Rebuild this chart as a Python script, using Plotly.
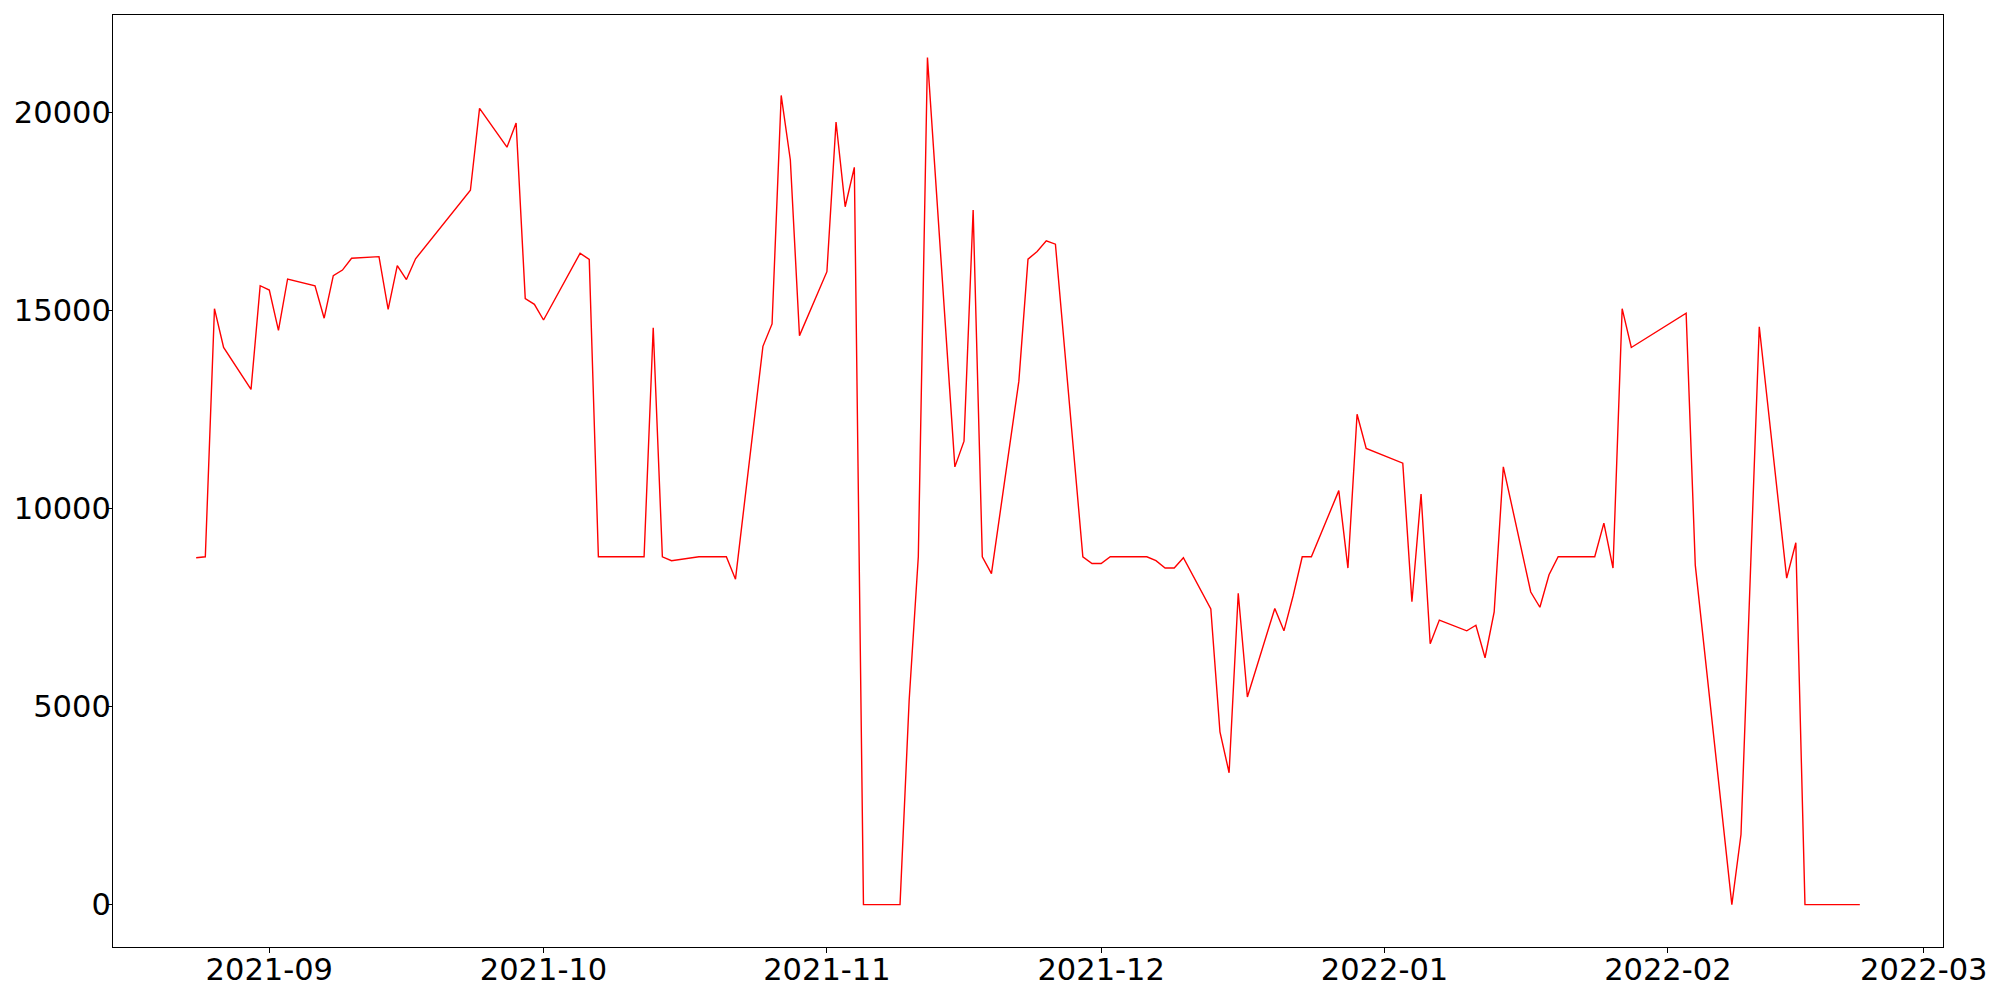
# =================================================
# DAILY SERIES — RED LINE ON WHITE (MPL LOOK)
# =================================================

import plotly.graph_objects as go


# -------------------------------------------------
# DATA
# -------------------------------------------------
dates = [
    "2021-08-24", "2021-08-25", "2021-08-26", "2021-08-27", "2021-08-30",
    "2021-08-31", "2021-09-01", "2021-09-02", "2021-09-03", "2021-09-06",
    "2021-09-07", "2021-09-08", "2021-09-09", "2021-09-10", "2021-09-13",
    "2021-09-14", "2021-09-15", "2021-09-16", "2021-09-17", "2021-09-23",
    "2021-09-24", "2021-09-27", "2021-09-28", "2021-09-29", "2021-09-30",
    "2021-10-01", "2021-10-05", "2021-10-06", "2021-10-07", "2021-10-08",
    "2021-10-11", "2021-10-12", "2021-10-13", "2021-10-14", "2021-10-15",
    "2021-10-18", "2021-10-19", "2021-10-20", "2021-10-21", "2021-10-22",
    "2021-10-25", "2021-10-26", "2021-10-27", "2021-10-28", "2021-10-29",
    "2021-11-01", "2021-11-02", "2021-11-03", "2021-11-04", "2021-11-05",
    "2021-11-08", "2021-11-09", "2021-11-10", "2021-11-11", "2021-11-12",
    "2021-11-15", "2021-11-16", "2021-11-17", "2021-11-18", "2021-11-19",
    "2021-11-22", "2021-11-23", "2021-11-24", "2021-11-25", "2021-11-26",
    "2021-11-29", "2021-11-30", "2021-12-01", "2021-12-02", "2021-12-03",
    "2021-12-06", "2021-12-07", "2021-12-08", "2021-12-09", "2021-12-10",
    "2021-12-13", "2021-12-14", "2021-12-15", "2021-12-16", "2021-12-17",
    "2021-12-20", "2021-12-21", "2021-12-22", "2021-12-23", "2021-12-24",
    "2021-12-27", "2021-12-28", "2021-12-29", "2021-12-30", "2022-01-03",
    "2022-01-04", "2022-01-05", "2022-01-06", "2022-01-07", "2022-01-10",
    "2022-01-11", "2022-01-12", "2022-01-13", "2022-01-14", "2022-01-17",
    "2022-01-18", "2022-01-19", "2022-01-20", "2022-01-21", "2022-01-24",
    "2022-01-25", "2022-01-26", "2022-01-27", "2022-01-28", "2022-02-03",
    "2022-02-04", "2022-02-08", "2022-02-09", "2022-02-11", "2022-02-14",
    "2022-02-15", "2022-02-16", "2022-02-17", "2022-02-18", "2022-02-21",
    "2022-02-22",
]

values = [
    8760, 8785, 15050, 14070, 13010,
    15630, 15520, 14500, 15800, 15630,
    14810, 15885, 16025, 16325, 16365,
    15035, 16140, 15785, 16310, 18040,
    20110, 19130, 19740, 15305, 15160,
    14765, 16450, 16295, 8785, 8785,
    8785, 8785, 14570, 8785, 8685,
    8785, 8785, 8785, 8785, 8220,
    14100, 14665, 20435, 18805, 14370,
    15985, 19765, 17625, 18620, 0,
    0, 0, 5170, 8785, 21395,
    11055, 11705, 17540, 8785, 8360,
    13220, 16300, 16495, 16765, 16680,
    8785, 8615, 8615, 8785, 8785,
    8785, 8685, 8500, 8500, 8760,
    7470, 4365, 3330, 7865, 5245,
    7480, 6915, 7795, 8785, 8785,
    10455, 8500, 12385, 11520, 11150,
    7650, 10370, 6590, 7185, 6915,
    7055, 6235, 7395, 11055, 7895,
    7510, 8330, 8785, 8785, 8785,
    9635, 8500, 15050, 14070, 14935,
    8575, 0, 1770, 14595, 8245,
    9140, 0, 0, 0, 0,
    0,
]

x_range = ["2021-08-14 21:36", "2022-03-03 02:24"]
y_range = [-1070, 22467]
y_ticks = [0, 5000, 10000, 15000, 20000]


# -------------------------------------------------
# COMMON AXIS STYLE (black frame, outside ticks)
# -------------------------------------------------
def _axis(**kw):

    base = dict(
        showline=True,
        linecolor="black",
        linewidth=1.1,
        mirror=True,
        showgrid=False,
        zeroline=False,
        automargin=False,
        ticks="outside",
        ticklen=5,
        tickwidth=1.1,
        tickcolor="black",
        tickfont=dict(family="DejaVu Sans", size=30.5, color="black"),
    )
    base.update(kw)
    return base


# =================================================
# FIGURE
# =================================================
fig = go.Figure(
    go.Scatter(
        x=dates,
        y=values,
        mode="lines",
        line=dict(color="red", width=1.4),
        showlegend=False,
    )
)

# page body adds an 8px offset, so size/margins are trimmed to suit
fig.update_layout(
    width=1992,
    height=992,
    paper_bgcolor="white",
    plot_bgcolor="white",
    margin=dict(l=105, r=57, t=7, b=53),
    xaxis=_axis(
        type="date",
        range=x_range,
        tick0="2021-09-01",
        dtick="M1",
        tickformat="%Y-%m",
        ticklabelstandoff=-10,
    ),
    yaxis=_axis(
        range=y_range,
        tickvals=y_ticks,
        tickformat="d",
        ticklabelstandoff=-10,
    ),
)

fig.write_html("out.html")
